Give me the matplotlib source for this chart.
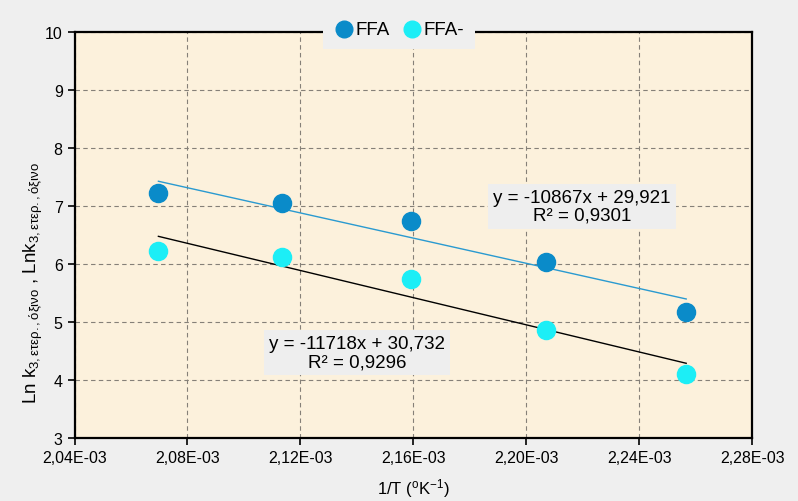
#!/usr/bin/env python3

import matplotlib.pyplot as plt
import matplotlib.ticker as mticker
import numpy as np

# 1/T values (K^-1) and ln k for the two series
inv_T = [2.0697e-3, 2.1135e-3, 2.1591e-3, 2.2068e-3, 2.2566e-3]
ln_k_ffa = [7.22, 7.05, 6.74, 6.04, 5.18]
ln_k_ffa_minus = [6.23, 6.13, 5.75, 4.86, 4.11]

series_names = ['FFA', 'FFA-']

# linear trendlines as printed on the chart: slope, intercept, R^2
trend_slope = [-10867, -11718]
trend_intercept = [29.921, 30.732]
trend_r2 = [0.9301, 0.9296]

x_ticks = [2.04e-3, 2.08e-3, 2.12e-3, 2.16e-3, 2.20e-3, 2.24e-3, 2.28e-3]
y_ticks = [3, 4, 5, 6, 7, 8, 9, 10]

plt.rcParams['font.family'] = ['Liberation Sans', 'DejaVu Sans']
plt.rcParams['mathtext.fontset'] = 'custom'
plt.rcParams['mathtext.rm'] = 'Liberation Sans'
plt.rcParams['mathtext.it'] = 'Liberation Sans:italic'
plt.rcParams['mathtext.sf'] = 'Liberation Sans'

fig = plt.figure(figsize=(7.98, 5.02), dpi=100, facecolor='#EFEFEF')
ax = fig.add_axes([0.0934, 0.1255, 0.8493, 0.8082])
ax.set_facecolor('#FCF1DC')

marker_colors = ['#0A8BC9', '#1CEEF6']
line_colors = ['#2A9AD0', '#000000']

ax.scatter(inv_T, ln_k_ffa, s=170, color=marker_colors[0], zorder=4, label=series_names[0])
ax.scatter(inv_T, ln_k_ffa_minus, s=170, color=marker_colors[1], zorder=4, label=series_names[1])

xs = np.array([min(inv_T), max(inv_T)])
for i in range(2):
    ax.plot(xs, trend_slope[i] * xs + trend_intercept[i], color=line_colors[i], lw=1.0, zorder=3)


def fmt_num(v, nd):
    return f'{v:.{nd}f}'.replace('.', ',')


box = dict(boxstyle='square,pad=0.28', facecolor='#EEEEEE', edgecolor='none')
eq_pos = [(2.2197e-3, 7.0), (2.1401e-3, 4.47)]
for i in range(2):
    txt = (f'y = {trend_slope[i]}x + {fmt_num(trend_intercept[i], 3)}\n'
           f'R² = {fmt_num(trend_r2[i], 4)}')
    ax.text(eq_pos[i][0], eq_pos[i][1], txt, ha='center', va='center',
            fontsize=13.5, linespacing=1.05, bbox=box, zorder=5)

ax.set_xlim(2.04e-3, 2.28e-3)
ax.set_ylim(3, 10)
ax.set_xticks(x_ticks)
ax.set_yticks(y_ticks)
ax.xaxis.set_major_formatter(mticker.FuncFormatter(
    lambda v, p: f'{v:.2E}'.replace('.', ',')))
ax.tick_params(labelsize=11.5, direction='out', length=5, width=1.2, colors='black')

ax.grid(True, color='#858078', linestyle=(0, (4, 3)), linewidth=0.8)
ax.set_axisbelow(True)
for sp in ax.spines.values():
    sp.set_linewidth(1.6)
    sp.set_color('black')

ax.set_xlabel(r'1/T ($^{\mathrm{o}}$K$^{\mathrm{-1}}$)', fontsize=12, labelpad=8)
ax.set_ylabel(r'Ln k$_{\mathrm{3,ετερ.,όξινο}}$ , Lnk$_{\mathrm{3,ετερ.,όξινο}}$',
              fontsize=13.5)
ax.yaxis.set_label_coords(-0.043, 0.385)

leg = ax.legend(loc='center', bbox_to_anchor=(0.479, 1.008), ncol=2, frameon=True,
                fontsize=13.5, handlelength=1.0, handletextpad=0.1, columnspacing=0.7,
                borderpad=0.6, borderaxespad=0, markerscale=0.92)
leg.get_frame().set_facecolor('#EFEFEF')
leg.get_frame().set_edgecolor('none')
leg.get_frame().set_alpha(1)
leg.get_frame().set_boxstyle('square', pad=0)
leg.set_zorder(10)

plt.savefig('out.png', dpi=100, facecolor=fig.get_facecolor())
plt.close()
